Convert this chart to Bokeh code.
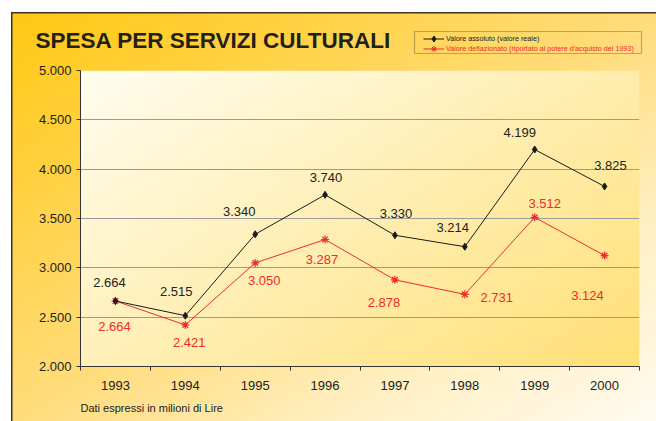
import numpy as np
from bokeh.plotting import figure
from bokeh.layouts import column
from bokeh.core.properties import value
from bokeh.models import (ColumnDataSource, FixedTicker, CustomJSTickFormatter, LabelSet,
                          Label, Legend, LegendItem, BoxAnnotation, Range1d)
from bokeh.embed import file_html
from bokeh.resources import INLINE

# ---- data ----
years = ["1993", "1994", "1995", "1996", "1997", "1998", "1999", "2000"]
valore_assoluto = [2664, 2515, 3340, 3740, 3330, 3214, 4199, 3825]
valore_deflazionato = [2664, 2421, 3050, 3287, 2878, 2731, 3512, 3124]
y_ticks = [2000, 2500, 3000, 3500, 4000, 4500, 5000]
title_text = "SPESA PER SERVIZI CULTURALI"
legend_labels = ["Valore assoluto (valore reale)",
                 "Valore deflazionato (riportato al potere d'acquisto del 1993)"]
footnote = "Dati  espressi in milioni di Lire"

# ---- label placement (screen px offsets, layout only) ----
abs_dx = [-6, -9, -16, 1, 1, -12, -15, 6]
abs_dy = [18, 24, 23, 17, 22, 19, 17, 21]
def_dx = [-1, 4, 9, -3, -11, 32, 10, -17]
def_dy = [-26, -18, -18, -20, -23, -3, 14, -40]

FONT = "Liberation Sans"
RED = "#EE2B2B"
BLACK = "#1a1a1a"
TXT = "#222222"
W = 656
HEAD_H, MAIN_H, FOOT_H = 60, 336, 25

x = [i + 0.5 for i in range(len(years))]


def it_fmt(v):
    return f"{v:,}".replace(",", ".")


def bare(fig):
    fig.title.visible = False
    fig.background_fill_alpha = 0
    fig.border_fill_alpha = 0
    fig.outline_line_color = None
    fig.xgrid.visible = False
    fig.ygrid.visible = False
    fig.frame_align = False


# ---------------- header (title + legend) ----------------
ph = figure(width=W, height=HEAD_H, x_range=Range1d(0, W), y_range=Range1d(0, HEAD_H),
            output_backend="svg", toolbar_location=None, x_axis_location=None,
            y_axis_location=None, min_border_left=0, min_border_right=0,
            min_border_top=0, min_border_bottom=0)
bare(ph)
ph.add_layout(Label(x=35, y=19.8, text=title_text, text_font=FONT, text_font_style="bold",
                    text_font_size="22.5px", text_color="#231f1a", text_baseline="middle"))

# legend proxies: same series styles; their data lies outside the header's ranges (not shown)
hl1 = ph.line(x, valore_assoluto, line_color=BLACK, line_width=1)
hs1 = ph.scatter(x, valore_assoluto, marker="diamond", color=BLACK)
hl2 = ph.line(x, valore_deflazionato, line_color=RED, line_width=1)
hs2 = ph.scatter(x, valore_deflazionato, marker="asterisk", line_color=RED, line_width=1)
common = dict(border_line_alpha=0, background_fill_alpha=0, padding=0, margin=0, spacing=0,
              glyph_width=21, glyph_height=15, label_height=15, label_standoff=2,
              label_text_font=FONT, label_text_font_size="7.2px")
ph.add_layout(Legend(items=[LegendItem(label=legend_labels[0], renderers=[hl1, hs1])],
                     location=(423, 14.5), label_text_color=TXT, **common))
ph.add_layout(Legend(items=[LegendItem(label=legend_labels[1], renderers=[hl2, hs2])],
                     location=(423, 4.5), label_text_color=RED, **common))
ph.add_layout(BoxAnnotation(left=414, right=641, top=29, bottom=7, fill_alpha=0,
                            line_color=TXT, line_width=1.2))

# ---------------- main plot ----------------
p = figure(width=W, height=MAIN_H, x_range=Range1d(0, len(years)), y_range=Range1d(2000, 5000),
           output_backend="svg", toolbar_location=None,
           min_border_left=80, min_border_right=17, min_border_top=10, min_border_bottom=30)
p.title.visible = False
p.background_fill_alpha = 0
p.border_fill_alpha = 0
p.outline_line_color = None
p.frame_align = False

# plot-area gradient background
IH, IW = 296, 559
u = np.linspace(0, 1, IW)[None, :]
vdown = np.linspace(1, 0, IH)[:, None]  # row 0 is bottom
t = np.clip(0.55 * u + 0.45 * vdown, 0, 1)
c0 = np.array([255, 253, 240])
c1 = np.array([255, 224, 118])
img = np.empty((IH, IW), dtype=np.uint32)
view = img.view(dtype=np.uint8).reshape((IH, IW, 4))
for k in range(3):
    view[:, :, k] = (c0[k] + (c1[k] - c0[k]) * t).astype(np.uint8)
view[:, :, 3] = 255
p.image_rgba(image=[img], x=0, y=2000, dw=len(years), dh=3000, level="image")

# grid
p.xgrid.visible = False
p.ygrid.ticker = FixedTicker(ticks=y_ticks)
p.ygrid.grid_line_color = "#9a9a9a"
p.ygrid.grid_line_width = 1

# y axis
p.yaxis.ticker = FixedTicker(ticks=y_ticks)
p.yaxis.formatter = CustomJSTickFormatter(code="return (tick/1000).toFixed(3);")
p.yaxis.major_tick_in = 0
p.yaxis.major_tick_out = 4
p.yaxis.minor_tick_line_color = None
p.yaxis.axis_line_color = "#333333"
p.yaxis.major_tick_line_color = "#333333"
p.yaxis.major_label_text_font = FONT
p.yaxis.major_label_text_font_size = "13px"
p.yaxis.major_label_text_color = TXT
p.yaxis.major_label_standoff = 5

# x axis: labels at category centres, ticks at category boundaries
p.xaxis.ticker = FixedTicker(ticks=x, minor_ticks=list(range(len(years) + 1)))
p.xaxis.formatter = CustomJSTickFormatter(args=dict(labels=years),
                                          code="return labels[Math.floor(tick)];")
p.xaxis.major_tick_line_color = None
p.xaxis.major_tick_in = 0
p.xaxis.major_tick_out = 0
p.xaxis.minor_tick_in = 0
p.xaxis.minor_tick_out = 4
p.xaxis.minor_tick_line_color = "#333333"
p.xaxis.axis_line_color = "#333333"
p.xaxis.major_label_text_font = FONT
p.xaxis.major_label_text_font_size = "13px"
p.xaxis.major_label_text_color = TXT
p.xaxis.major_label_standoff = 10

# series
p.line(x, valore_deflazionato, line_color=RED, line_width=1)
p.scatter(x, valore_deflazionato, marker="asterisk", size=8, line_color=RED, line_width=1.2)
p.line(x, valore_assoluto, line_color=BLACK, line_width=1)
p.scatter(x, valore_assoluto, marker="diamond", size=7, color=BLACK)

src_abs = ColumnDataSource(dict(x=x, y=valore_assoluto, t=[it_fmt(v) for v in valore_assoluto],
                                dx=abs_dx, dy=abs_dy))
src_def = ColumnDataSource(dict(x=x, y=valore_deflazionato, t=[it_fmt(v) for v in valore_deflazionato],
                                dx=def_dx, dy=def_dy))
for src, col in ((src_abs, TXT), (src_def, RED)):
    p.add_layout(LabelSet(x="x", y="y", text="t", source=src, x_offset="dx", y_offset="dy",
                          text_align="center", text_baseline="middle", text_font=value(FONT),
                          text_font_size=value("13px"), text_color=col))

# ---------------- footer ----------------
pf = figure(width=W, height=FOOT_H, x_range=Range1d(0, W), y_range=Range1d(0, FOOT_H),
            output_backend="svg", toolbar_location=None, x_axis_location=None,
            y_axis_location=None, min_border_left=0, min_border_right=0,
            min_border_top=0, min_border_bottom=0)
bare(pf)
pf.add_layout(Label(x=80, y=13.5, text=footnote, text_font=FONT, text_font_size="11px",
                    text_color=TXT, text_baseline="middle"))

bord = "#3b3223"
layout = column(ph, p, pf, spacing=0)
layout.styles = {
    "background": (
        f"linear-gradient({bord},{bord}) 11px 12px / 1.5px calc(100% - 12px) no-repeat, "
        f"linear-gradient({bord},{bord}) 11px 12px / calc(100% - 11px) 1.5px no-repeat, "
        "linear-gradient(to bottom right, #FFC812 0%, #FFDC7A 50%, #FFEFC2 75%, #FFFBF0 100%) "
        "11px 12px / calc(100% - 11px) calc(100% - 12px) no-repeat, white"
    )
}

open("out.html", "w").write(file_html(layout, INLINE))
